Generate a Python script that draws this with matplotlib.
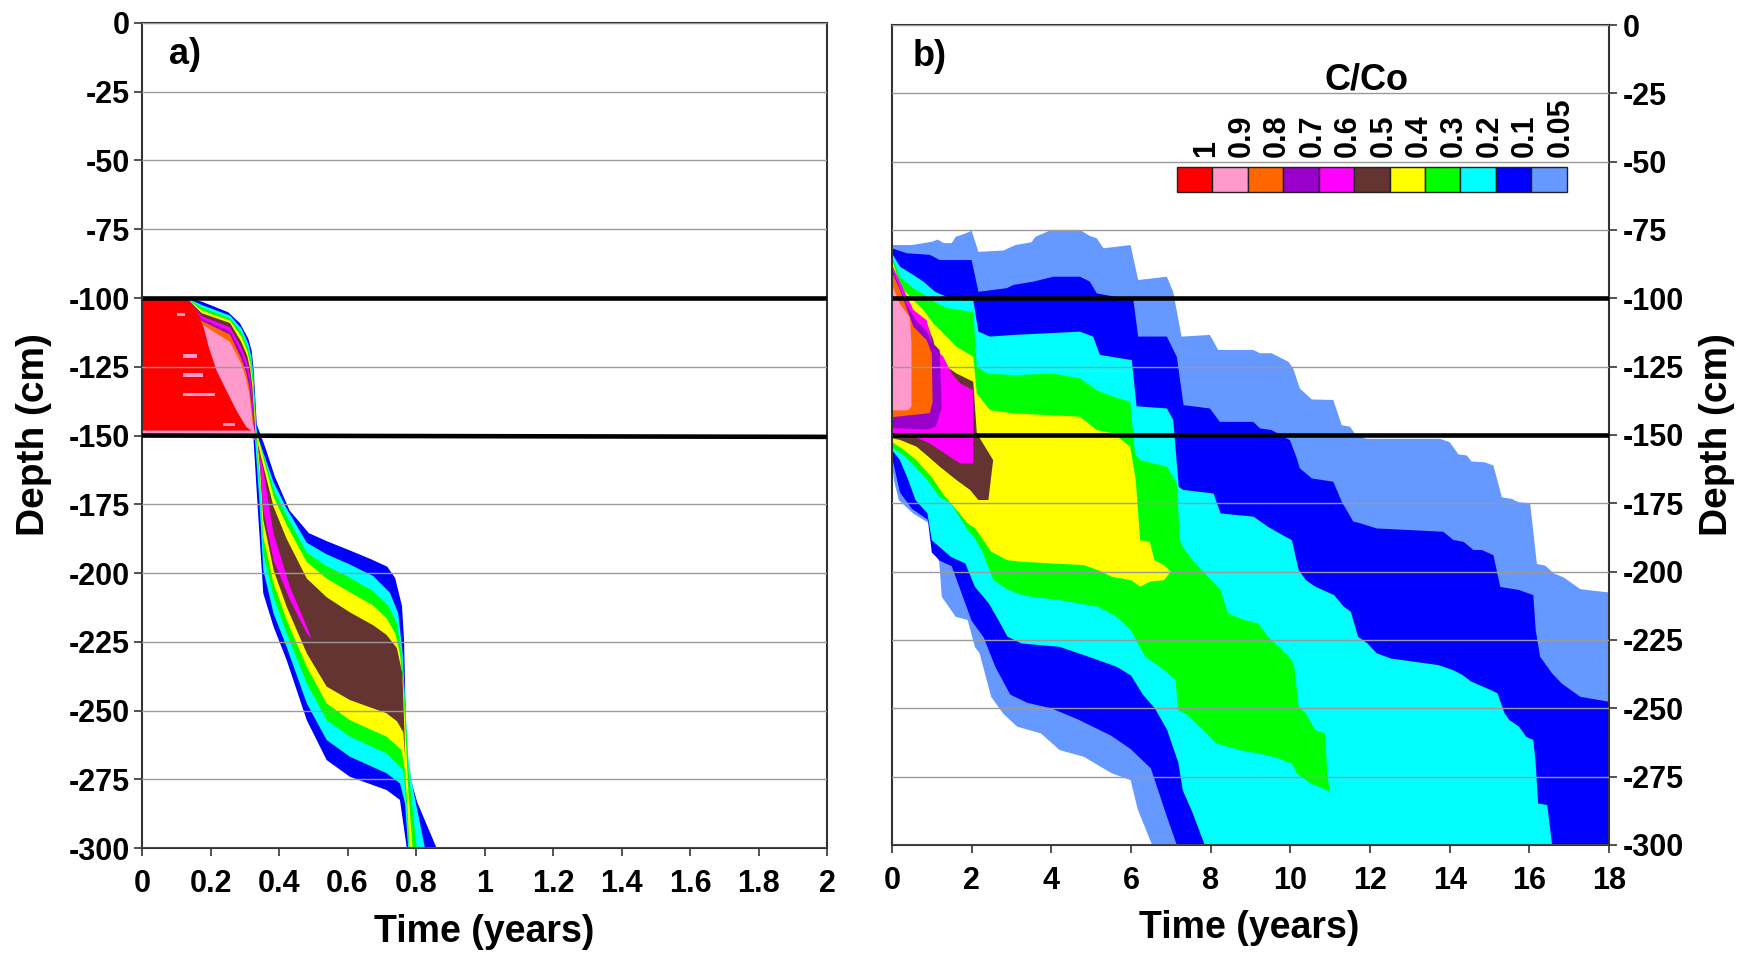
import matplotlib
matplotlib.use("Agg")
import matplotlib.pyplot as plt
from matplotlib.patches import Rectangle
from matplotlib.ticker import FuncFormatter

plt.rcParams['font.family'] = ['Liberation Sans', 'DejaVu Sans']
plt.rcParams['font.weight'] = 'bold'
plt.rcParams['axes.unicode_minus'] = False

# legend classes and colours (C/Co)
LEVEL_LABELS = ['1', '0.9', '0.8', '0.7', '0.6', '0.5', '0.4', '0.3', '0.2', '0.1', '0.05']
LEVEL_COLORS = ['#FF0000', '#FF99CC', '#FF6600', '#9900CC', '#FF00FF', '#663333',
                '#FFFF00', '#00FF00', '#00FFFF', '#0000FF', '#6699FF']

# ---- panel a) : outlines (time in years, depth in cm) of C/Co >= level ----
A_C01 = [(0, -100), (0.13, -100), (0.174, -101.3), (0.252, -105.2), (0.286, -109.2), (0.31, -114.7),
         (0.32, -119.1), (0.326, -126), (0.331, -137), (0.335, -146), (0.359, -154), (0.388, -165),
         (0.431, -177.3), (0.487, -185.5), (0.539, -188.4), (0.607, -191.8), (0.667, -194.9), (0.716, -197.7),
         (0.739, -201.8), (0.759, -212), (0.765, -224.3), (0.768, -241.3), (0.772, -267), (0.782, -274),
         (0.804, -283.5), (0.86, -300),
         (0.773, -300), (0.753, -282.5), (0.714, -278.9), (0.607, -274.1), (0.539, -268), (0.481, -253.5),
         (0.422, -231.6), (0.384, -219.5), (0.354, -207.4), (0.34, -180.7), (0.325, -150.4), (0, -150.4)]
A_C02 = [(0, -100), (0.13, -100), (0.174, -102.5), (0.257, -106.4), (0.29, -111), (0.31, -116.5),
         (0.319, -121), (0.325, -127.5), (0.33, -138), (0.334, -147), (0.337, -150), (0.384, -167),
         (0.422, -176.5), (0.481, -189), (0.539, -193.2), (0.607, -196.9), (0.675, -201.1), (0.724, -207.2),
         (0.748, -214.7), (0.761, -229.2), (0.771, -253.5), (0.778, -268), (0.792, -279), (0.826, -300),
         (0.777, -300), (0.768, -283.8), (0.753, -276.5), (0.714, -272.8), (0.607, -266.8), (0.539, -260.7),
         (0.481, -247.4), (0.422, -226.8), (0.384, -214.7), (0.354, -198.9), (0.343, -174.7), (0.33, -151.6),
         (0.31, -150.5), (0, -150.5)]
A_C03 = [(0, -100), (0.13, -100), (0.174, -103.5), (0.257, -107.4), (0.29, -112.5), (0.309, -118),
         (0.318, -123), (0.324, -129), (0.329, -139), (0.333, -148), (0.34, -151), (0.384, -169.6),
         (0.422, -179.3), (0.481, -192.6), (0.539, -197.5), (0.607, -201.7), (0.675, -206.6), (0.719, -212),
         (0.744, -218.3), (0.758, -229.2), (0.768, -247.4), (0.778, -271.6), (0.788, -283.8), (0.802, -300),
         (0.779, -300), (0.772, -283.8), (0.763, -271.6), (0.714, -265.6), (0.607, -259.5), (0.539, -253.5),
         (0.481, -240.1), (0.422, -221.9), (0.384, -208.6), (0.354, -192.8), (0.345, -168.6), (0.333, -151.6),
         (0.315, -150.5), (0, -150.5)]
A_C04 = [(0, -100), (0.13, -100), (0.174, -104.5), (0.257, -108.2), (0.29, -114), (0.308, -119.5),
         (0.317, -124.5), (0.323, -130.5), (0.328, -140), (0.332, -148.5), (0.343, -152.8), (0.384, -172.2),
         (0.422, -182.5), (0.481, -196), (0.539, -202), (0.607, -207), (0.675, -211.8), (0.714, -216.5),
         (0.739, -221.9), (0.753, -229.2), (0.763, -241.3), (0.772, -265), (0.778, -280), (0.79, -300),
         (0.781, -300), (0.775, -285), (0.768, -272), (0.758, -264.4), (0.714, -259.5), (0.607, -253.5),
         (0.539, -247.4), (0.481, -234.1), (0.422, -217.1), (0.384, -203.8), (0.354, -186.8), (0.345, -166.2),
         (0.335, -151.6), (0.32, -150.5), (0, -150.5)]
A_C05 = [(0, -100), (0.13, -100), (0.174, -105.5), (0.257, -109.1), (0.29, -116), (0.307, -121),
         (0.316, -126), (0.322, -132), (0.327, -141), (0.331, -149), (0.345, -156.5), (0.384, -175.9),
         (0.422, -187.5), (0.481, -202), (0.539, -208.8), (0.607, -214.3), (0.675, -219), (0.714, -222.5),
         (0.744, -227.3), (0.76, -236.5), (0.765, -253.5), (0.769, -268),
         (0.763, -258), (0.745, -254), (0.714, -251), (0.607, -246.2), (0.539, -241.3), (0.481, -229.2),
         (0.422, -212.2), (0.384, -198.9), (0.354, -180.7), (0.345, -162.5), (0.337, -151.6), (0.32, -150.5),
         (0, -150.5)]
A_C06 = [(0, -100), (0.13, -100), (0.174, -106.6), (0.257, -110.7), (0.29, -118), (0.306, -123),
         (0.315, -128), (0.321, -134), (0.326, -142), (0.33, -149.5), (0.343, -156.5), (0.354, -162.5),
         (0.384, -185.6), (0.432, -205), (0.481, -219.5), (0.495, -223.8),
         (0.481, -221.9), (0.432, -209.8), (0.384, -195.3), (0.354, -177.1), (0.343, -158), (0.336, -152),
         (0.32, -150.5), (0, -150.5)]
A_C07 = [(0, -100), (0.13, -100), (0.174, -107.5), (0.257, -112.1), (0.29, -120), (0.305, -125),
         (0.314, -130), (0.32, -136), (0.325, -143), (0.33, -150), (0, -150)]
A_C08 = [(0, -100), (0.13, -100), (0.174, -108.3), (0.257, -113.3), (0.29, -122), (0.304, -127),
         (0.313, -132), (0.319, -138), (0.324, -144), (0.33, -150), (0, -150)]
A_C09 = [(0, -100), (0.13, -100), (0.174, -109.5), (0.257, -116), (0.29, -124), (0.303, -129),
         (0.312, -134), (0.318, -140), (0.323, -145.5), (0.33, -149.5), (0, -149.5)]
A_C10 = [(0, -100), (0.13, -100), (0.16, -104.6), (0.18, -110.7), (0.195, -118), (0.218, -126.5),
         (0.247, -133.8), (0.276, -141), (0.305, -147), (0.32, -148.2), (0, -148.2)]
# small C/Co < 1 specks left inside the red core
A_SPECKS = [[(0.101, -105.3), (0.126, -105.3), (0.126, -106.5), (0.101, -106.5)],
            [(0.121, -120.4), (0.16, -120.4), (0.16, -121.7), (0.121, -121.7)],
            [(0.121, -127.4), (0.179, -127.4), (0.179, -128.7), (0.121, -128.7)],
            [(0.121, -134.4), (0.213, -134.4), (0.213, -135.7), (0.121, -135.7)],
            [(0.237, -145.3), (0.272, -145.3), (0.272, -146.6), (0.237, -146.6)]]

# ---- panel b) ----
B_C005 = [(0, -80.5), (0.5, -80.5), (1.0, -79.3), (1.15, -78.5), (1.3, -79.8), (1.5, -79.8), (1.6, -77.5),
          (1.8, -76.5), (2.0, -75.3), (2.17, -83), (2.8, -82.5), (3.1, -80.5), (3.5, -79.5), (3.6, -77.5),
          (4.0, -75), (4.72, -75), (4.97, -77.2), (5.14, -78), (5.31, -81.7), (5.99, -80.5), (6.18, -93.3),
          (6.9, -92.1), (7.06, -97.6), (7.27, -114), (7.98, -113.4), (8.19, -118.9), (9.07, -118.9),
          (9.24, -120.1), (9.53, -120.1), (9.95, -123.2), (10.07, -125.6), (10.24, -133), (10.54, -137),
          (11.08, -137.2), (11.29, -146.4), (11.5, -147), (11.62, -149.5), (11.9, -151.4), (13.75, -151.4),
          (14.0, -152.6), (14.22, -157.1), (14.43, -157.5), (14.55, -159.7), (14.89, -160), (15.1, -161.2),
          (15.31, -172.8), (15.56, -173.4), (15.73, -174.6), (16.02, -175), (16.19, -197.2), (16.4, -197.8),
          (16.61, -200.6), (16.86, -202.1), (17.28, -206.4), (17.61, -207), (18, -207.6), (18, -300),
          (6.53, -300), (6.17, -287), (5.99, -276.3), (5.52, -273.8), (4.81, -267.7), (4.21, -265.3),
          (3.74, -259.2), (3.14, -256.7), (2.79, -251.9), (2.49, -245.8), (2.2, -229.9), (2.08, -227.5),
          (1.9, -217.7), (1.6, -216.5), (1.25, -209.2), (1.19, -197), (0.95, -182.4), (0.53, -178.7),
          (0.17, -173.8), (0.05, -166.5), (0, -160)]
B_C01 = [(0, -81.7), (0.37, -83.5), (0.95, -84.1), (1.2, -86), (2.0, -86), (2.17, -97.6), (2.88, -96.3),
         (3.05, -95.1), (3.55, -93.9), (4.05, -92.1), (4.72, -92.1), (4.97, -93.9), (5.14, -98.2),
         (6.06, -100.6), (6.18, -114), (6.9, -114), (7.15, -121.4), (7.32, -139.1), (7.98, -140.3),
         (8.23, -145.2), (9.07, -145.2), (9.24, -147.6), (9.53, -148.2), (9.99, -151.9), (10.15, -158),
         (10.24, -162.2), (10.54, -165.9), (11.08, -167.1), (11.29, -174.4), (11.58, -181.7), (11.71, -182.1),
         (12.17, -184.2), (13.84, -185.4), (14.09, -188.4), (14.35, -189.1), (14.6, -192.1), (14.81, -192.1),
         (15.1, -194), (15.27, -205.6), (15.74, -206.7), (16.1, -208.6), (16.16, -221.4), (16.27, -231.1),
         (16.57, -237.2), (16.81, -240.9), (17.28, -245.8), (17.52, -246.4), (18, -247.6), (18, -300),
         (7.15, -300), (6.91, -290), (6.5, -272), (6.0, -265), (5.5, -260), (4.66, -254), (4.0, -250),
         (3.4, -248), (2.97, -245), (2.6, -235), (2.3, -224), (2.0, -218), (1.8, -210), (1.5, -198),
         (1.2, -196), (1.0, -193), (0.9, -181), (0.5, -177), (0.2, -171), (0, -158)]
B_C02 = [(0, -83.5), (0.2, -88.4), (0.54, -91.5), (0.79, -93.9), (1.08, -97.6), (1.37, -99.4), (2.04, -100.6),
         (2.17, -112.2), (2.46, -114), (3.05, -113.4), (3.88, -112.8), (4.72, -112.2), (5.05, -114),
         (5.22, -120.7), (6.02, -122.6), (6.14, -139.5), (6.9, -140.3), (7.06, -144.5), (7.2, -169),
         (7.31, -170.1), (8.07, -171.4), (8.25, -178.7), (9.08, -179.9), (9.44, -183.6), (9.8, -186.6),
         (10.04, -188.5), (10.21, -199.4), (10.39, -203.1), (10.63, -205.5), (11.1, -208.6), (11.34, -212.8),
         (11.52, -214.7), (11.7, -223.8), (11.94, -226.3), (12.17, -229.9), (12.53, -231.8), (13.72, -234.2),
         (14.08, -236), (14.32, -237.8), (14.55, -240.3), (15.03, -243.3), (15.2, -244.5), (15.38, -251.9),
         (15.5, -254.3), (15.74, -256.7), (15.92, -260.4), (16.1, -261.6), (16.16, -270.2), (16.22, -284.8),
         (16.45, -285.4), (16.57, -300),
         (7.85, -300), (7.54, -288), (7.3, -280), (7.19, -270), (6.91, -258), (6.6, -250), (6.3, -245),
         (6.0, -238), (5.64, -234.8), (4.93, -231.1), (4.21, -227.5), (3.26, -226.3), (2.9, -223.8),
         (2.67, -217.7), (2.43, -211.6), (2.08, -205.5), (1.84, -197), (1.48, -194.6), (1.0, -188.5),
         (0.89, -178.7), (0.59, -173.8), (0.41, -166.5), (0.2, -159.2), (0, -155.5)]
B_C03 = [(0, -84.8), (0.2, -92.1), (0.54, -96.4), (0.79, -98.5), (1.08, -101.5), (1.37, -103.5), (2.04, -105),
         (2.13, -125), (2.38, -127.5), (3.05, -128.1), (4.05, -127.5), (4.72, -129.3), (5.14, -133.6),
         (5.56, -136), (5.98, -137.8), (6.1, -156.7), (6.23, -159.2), (6.9, -161.6), (7.15, -167.7),
         (7.23, -188.4), (7.3, -190.9), (7.54, -195.8), (7.9, -201.3), (8.25, -206.7), (8.43, -215.3),
         (8.85, -217.7), (9.2, -219), (9.44, -223.8), (9.8, -228.7), (10.04, -232.4), (10.1, -234.8),
         (10.21, -249.4), (10.39, -251.9), (10.63, -258), (10.87, -259.2), (10.93, -273.8), (10.99, -280.5),
         (10.81, -279.3), (10.51, -277.5), (10.16, -273.8), (10.04, -270.2), (9.56, -267.7), (9.2, -266.5),
         (8.73, -265.3), (8.13, -262.8), (7.9, -259.2), (7.54, -254.3), (7.42, -252.5), (7.18, -250.6),
         (7.12, -239.7), (6.83, -236), (6.36, -231.1), (5.99, -221.4), (5.64, -216.5), (5.17, -212.8),
         (4.21, -210.4), (3.5, -209.2), (3.14, -208), (2.85, -206.1), (2.55, -203.1), (2.25, -192.1),
         (2.08, -187.8), (1.9, -184.8), (1.48, -175), (1.19, -172.6), (0.89, -166.5), (0.6, -162),
         (0.3, -157.5), (0, -154.5)]
B_C04 = [(0, -85.4), (0.2, -95.7), (0.54, -100.6), (0.79, -104.3), (1.04, -109.2), (1.37, -114), (1.62, -117.7),
         (2.04, -121.4), (2.13, -134.8), (2.46, -140.9), (3.05, -142.1), (4.72, -143.3), (5.14, -148.2),
         (5.56, -149.4), (5.98, -154.3), (6.12, -166.5), (6.23, -188.5), (6.47, -189.1), (6.59, -195.8),
         (6.83, -197.6), (7.0, -200), (6.83, -203.1), (6.47, -203.7), (6.23, -205.5), (6.0, -203.1),
         (5.52, -201.9), (5.17, -199.4), (4.81, -197.6), (3.26, -196.4), (2.9, -195.8), (2.49, -192.7),
         (2.08, -184), (1.9, -182.4), (1.6, -177), (1.3, -172), (1.0, -165.5), (0.6, -159), (0.3, -155.5),
         (0, -152.5)]
B_C05 = [(0, -86.6), (0.2, -100.6), (0.54, -106.1), (0.87, -109.2), (1.04, -115.3), (1.12, -122.6),
         (1.37, -125), (1.62, -127.5), (2.04, -130.5), (2.13, -149.4), (2.54, -159.2), (2.42, -173.8),
         (2.17, -173.8), (1.96, -170.1), (1.62, -166.5), (1.2, -161.6), (0.91, -157.9), (0.62, -154.3),
         (0.2, -151.8), (0, -151.2)]
B_C06 = [(0, -87.8), (0.54, -104.3), (0.87, -108), (1.04, -117.7), (1.29, -121.4), (1.5, -127.5),
         (1.71, -131.1), (2.04, -133.6), (2.04, -160.4), (1.71, -160.4), (1.4, -157.5), (0.95, -153.1),
         (0.54, -150.5), (0, -150)]
B_C07 = [(0, -89), (0.35, -102), (0.6, -108), (0.87, -112), (1.0, -116), (1.2, -119), (1.25, -140),
         (1.1, -147), (0.9, -148), (0, -147.5)]
B_C08 = [(0, -90.3), (0.2, -97), (0.54, -110.4), (0.87, -115.3), (1.0, -120.1), (1.02, -138),
         (0.95, -142), (0, -143.5)]
B_C09 = [(0, -95), (0.2, -102), (0.45, -107), (0.49, -116.5), (0.49, -139.6), (0.4, -141), (0, -141)]

A_LAYERS = [(A_C01, 9), (A_C02, 8), (A_C03, 7), (A_C04, 6), (A_C05, 5), (A_C06, 4),
            (A_C07, 3), (A_C08, 2), (A_C09, 1), (A_C10, 0)] + [(s, 1) for s in A_SPECKS]
B_LAYERS = [(B_C005, 10), (B_C01, 9), (B_C02, 8), (B_C03, 7), (B_C04, 6), (B_C05, 5), (B_C06, 4),
            (B_C07, 3), (B_C08, 2), (B_C09, 1)]

DEPTH_TICKS = list(range(0, -301, -25))
A_TIME_TICKS = [0, 0.2, 0.4, 0.6, 0.8, 1.0, 1.2, 1.4, 1.6, 1.8, 2.0]
B_TIME_TICKS = list(range(0, 19, 2))
LAYER_BOUNDS = [-100, -150]

fig = plt.figure(figsize=(17.6, 9.58), dpi=100)
ax_a = fig.add_axes([0.0807, 0.1148, 0.3892, 0.8612])
ax_b = fig.add_axes([0.5068, 0.1180, 0.4074, 0.8559])

fmt = FuncFormatter(lambda v, p: '%g' % v)


def style_axes(ax, xmax, xticks):
    ax.set_xlim(0, xmax)
    ax.set_ylim(-300, 0)
    ax.set_xticks(xticks)
    ax.set_yticks(DEPTH_TICKS)
    ax.xaxis.set_major_formatter(fmt)
    ax.yaxis.set_major_formatter(fmt)
    ax.set_axisbelow(False)
    ax.yaxis.grid(True, color='#9a9a9a', lw=1.0)
    for s in ax.spines.values():
        s.set_color('#333333')
        s.set_linewidth(1.5)
    ax.tick_params(axis='both', labelsize=22, width=1.2, length=6, color='#333333', direction='out')
    ax.tick_params(axis='x', pad=9)
    ax.tick_params(axis='y', pad=3)
    for lab in ax.get_xticklabels() + ax.get_yticklabels():
        lab.set_fontweight('bold')


for poly, ci in A_LAYERS:
    xs, ys = zip(*poly)
    ax_a.fill(xs, ys, color=LEVEL_COLORS[ci], lw=0, zorder=1)
for poly, ci in B_LAYERS:
    xs, ys = zip(*poly)
    ax_b.fill(xs, ys, color=LEVEL_COLORS[ci], lw=0, zorder=1)

style_axes(ax_a, 2, A_TIME_TICKS)
style_axes(ax_b, 18, B_TIME_TICKS)
ax_b.yaxis.tick_right()
ax_b.tick_params(axis='y', pad=4)

for d in LAYER_BOUNDS:
    ax_a.plot([0, 2], [d, d - (0.5 if d == -150 else 0)], color='black', lw=3.3, zorder=4, solid_capstyle='butt')
    ax_b.plot([0, 18], [d, d], color='black', lw=3.3, zorder=4, solid_capstyle='butt')

ax_a.text(0.125, -11.5, 'a)', fontsize=26, fontweight='bold', ha='center', va='center')
ax_b.text(0.95, -11.5, 'b)', fontsize=26, fontweight='bold', ha='center', va='center')

fig.text(0.275, 0.027, 'Time (years)', fontsize=27, fontweight='bold', ha='center', va='center')
fig.text(0.7097, 0.031, 'Time (years)', fontsize=27, fontweight='bold', ha='center', va='center')
fig.text(0.0193, 0.546, 'Depth (cm)', fontsize=28, fontweight='bold', ha='center', va='center', rotation=90)
fig.text(0.9756, 0.546, 'Depth (cm)', fontsize=28, fontweight='bold', ha='center', va='center', rotation=90)

# colour key
bw = 0.0494
for i, (lab, col) in enumerate(zip(LEVEL_LABELS, LEVEL_COLORS)):
    x0 = 0.3975 + i * bw
    ax_b.add_patch(Rectangle((x0, 0.7963), bw, 0.0305, transform=ax_b.transAxes,
                             facecolor=col, edgecolor='#222222', lw=1.0, zorder=6, clip_on=False))
    ax_b.text(x0 + bw / 2 + 0.016, 0.839, lab, transform=ax_b.transAxes, rotation=90,
              ha='center', va='bottom', fontsize=22, fontweight='bold', zorder=6)
ax_b.text(0.6625, 0.933, 'C/Co', transform=ax_b.transAxes, ha='center', va='center',
          fontsize=26, fontweight='bold', zorder=6)

fig.savefig('out.png', dpi=100)
